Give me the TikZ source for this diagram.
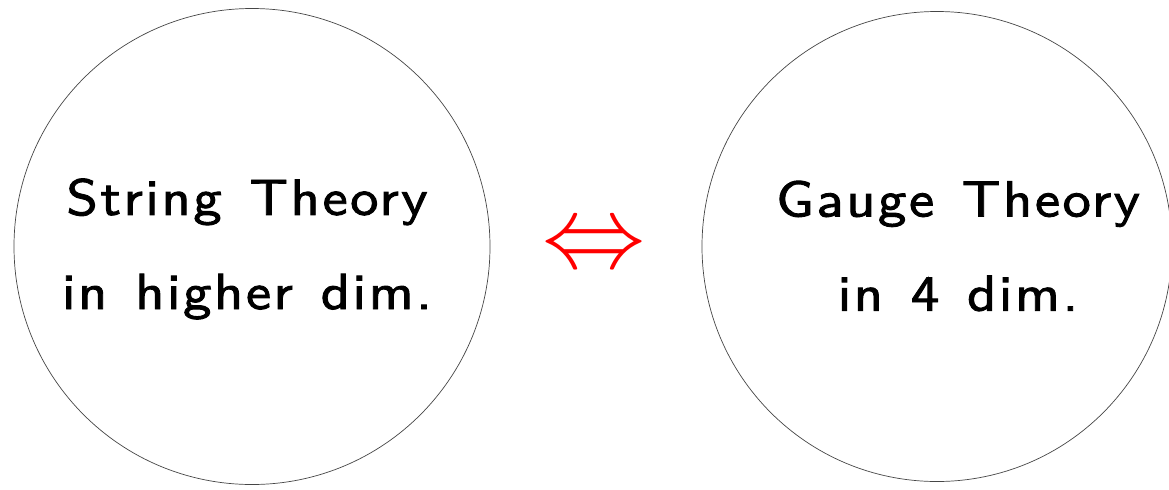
\documentclass[tikz,border=0pt]{standalone}
\usepackage{fontspec}
\usepackage{tikz}
\usepackage{xcolor}
\usetikzlibrary{positioning, calc}
\definecolor{ringGray}{RGB}{70,70,70}
\definecolor{dualRed}{RGB}{255,0,0}
\newfontfamily\slidefont{lmsans10-regular.otf}[LetterSpace=5, WordSpace=1.3, FakeStretch=1.12, FakeBold=1.8]
\newcommand{\slidetext}{\fontsize{36}{67}\slidefont}
\tikzset{
    theorycircle/.style={
        circle,
        draw=ringGray,
        line width=0.5pt,
        inner sep=0pt
    },
    theorylabel/.style={
        align=center,
        inner sep=0pt,
        text=black,
        font=\slidetext
    },
    dualsign/.style={
        inner sep=0pt,
        text=dualRed,
        font=\Huge,
        scale=2.95,
        transform shape
    }
}
\begin{document}
\begin{tikzpicture}
    \useasboundingbox (0,0) rectangle (29.225,-12.225);
    \node[theorycircle, minimum size=11.9cm] (string) at (6.3,-6.1625) {};
    \node[theorycircle, minimum size=11.75cm] (gauge) at (23.425,-6.1625) {};
    \node[theorylabel] (stringtext) at (6.175,-6.225) {String Theory\\in higher dim.};
    \node[theorylabel] (gaugetext) at (23.95,-6.15) {Gauge Theory\\in 4 dim.};
    \node[dualsign] (duality) at ($(string)!0.5!(gauge)+(0,-0.05)$) {$\Leftrightarrow$};
\end{tikzpicture}
\end{document}
